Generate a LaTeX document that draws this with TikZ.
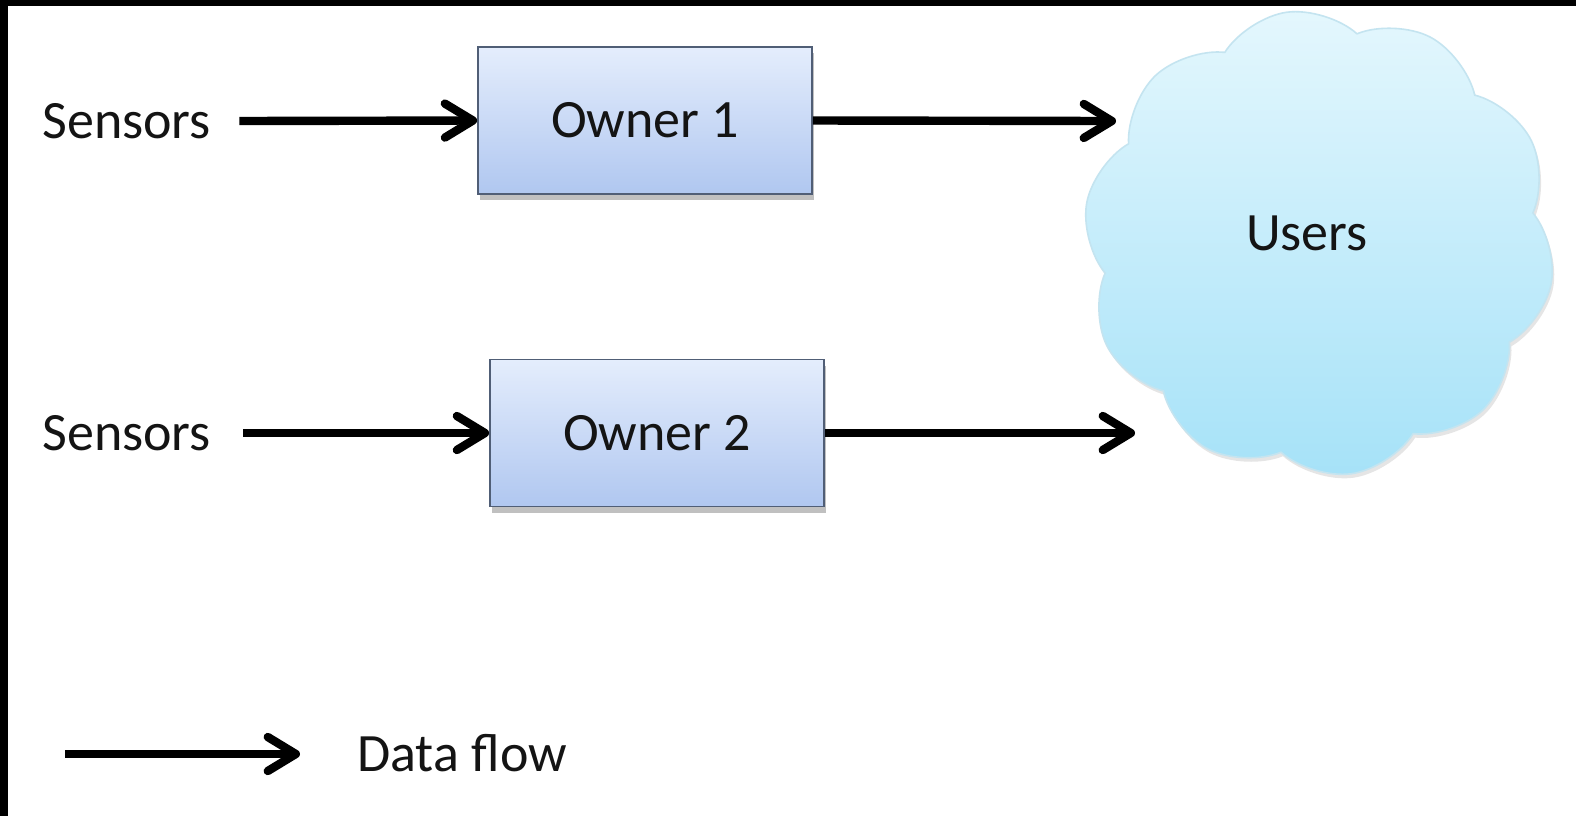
\documentclass[tikz,border=0pt]{standalone}
\usepackage{fontspec}
\setmainfont{Carlito}
\usetikzlibrary{arrows.meta,shapes.symbols,shadows}
\definecolor{boxtop}{RGB}{228,237,252}
\definecolor{boxbot}{RGB}{176,199,240}
\definecolor{boxline}{RGB}{80,94,118}
\definecolor{cloudtop}{RGB}{228,247,253}
\definecolor{cloudbot}{RGB}{166,226,248}
\definecolor{cloudline}{RGB}{196,228,240}
\definecolor{inktext}{RGB}{20,20,20}
\tikzset{
  lbl/.style={font=\fontsize{27}{32}\selectfont, text=inktext, inner sep=0pt},
  ownerbox/.style={draw=boxline, line width=0.9pt, top color=boxtop, bottom color=boxbot,
     minimum width=167pt, minimum height=73.5pt, inner sep=0pt,
     font=\fontsize{27}{32}\selectfont, text=inktext,
     drop shadow={shadow xshift=1pt, shadow yshift=-3pt, opacity=0.35, fill=black!70}},
  usercloud/.style={shape=cloud, cloud puffs=10, cloud puff arc=100, aspect=1,
     draw=cloudline, line width=0.8pt, top color=cloudtop, bottom color=cloudbot,
     minimum width=236pt, minimum height=233pt, inner sep=0pt,
     drop shadow={shadow xshift=1pt, shadow yshift=-2pt, opacity=0.2, fill=black!50}},
  flow/.style={line width=4.2pt,
     -{Straight Barb[length=14pt, width=17pt, line width=4.2pt, round]}}
}
\begin{document}
\begin{tikzpicture}[x=0.5pt, y=-0.5pt]
\useasboundingbox (0,0) rectangle (1576,816);
\fill[white] (0,0) rectangle (1576,816);
\fill[black] (0,0) rectangle (8,816);
\fill[black] (0,0) rectangle (1576,6);

\node[usercloud, rotate=8] (users) at (1319,243) {};
\node[lbl] (userstext) at (1307,233) {Users};

\node[ownerbox] (o1) at (645,120.5) {Owner 1};
\node[ownerbox] (o2) at (657,433) {Owner 2};

\node[lbl, anchor=west] (s1) at (42,121) {Sensors};
\node[lbl, anchor=west] (s2) at (42,433) {Sensors};

\coordinate (u1) at (1116,121);
\coordinate (u2) at (1135,433);

\draw[flow] ([xshift=14pt]s1.east) -- (o1.west);
\draw[flow] ([xshift=16pt]s2.east) -- (o2.west);
\draw[flow] (o1.east) -- (u1);
\draw[flow] (o2.east) -- (u2);

\coordinate (la) at (65,754);
\coordinate (lb) at (300,754);
\draw[flow] (la) -- (lb);
\node[lbl, anchor=west] (legend) at (357,753) {Data flow};
\end{tikzpicture}
\end{document}
